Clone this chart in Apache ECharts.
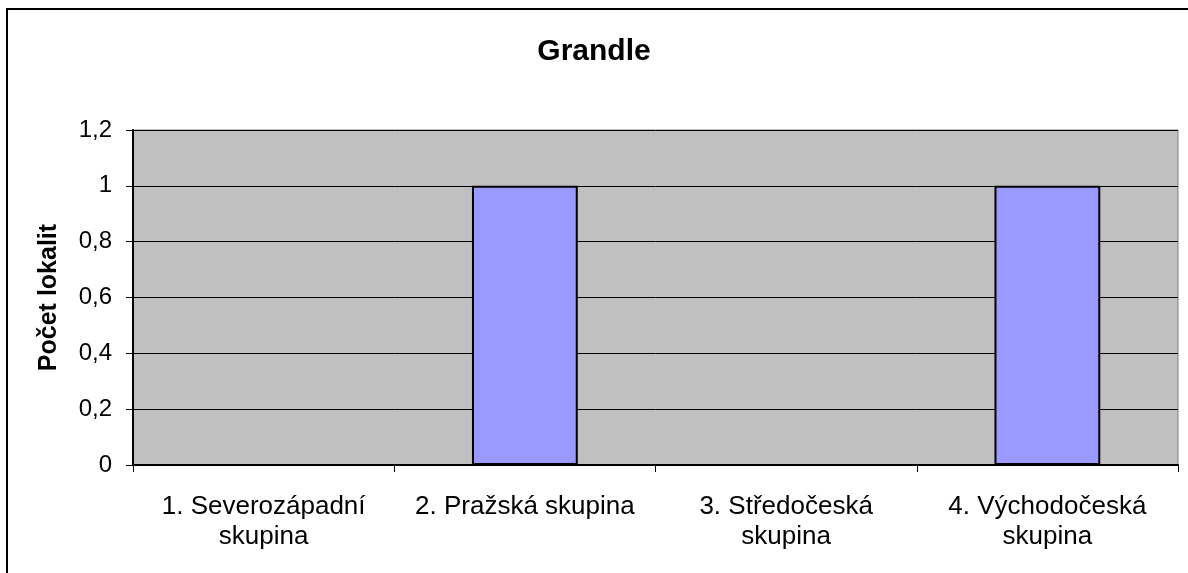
<!DOCTYPE html>
<html>
<head>
<meta charset="utf-8">
<script src="https://cdn.jsdelivr.net/npm/echarts@6/dist/echarts.min.js"></script>
<style>
  html, body { margin: 0; padding: 0; background: #fff; }
  #chart { width: 1188px; height: 573px; }
</style>
</head>
<body>
<div id="chart"></div>
<script>
// data
const categories = ["1. Severozápadní\nskupina", "2. Pražská skupina", "3. Středočeská\nskupina", "4. Východočeská\nskupina"];
const values = [0, 1, 0, 1];
const yTicks = [0, 0.2, 0.4, 0.6, 0.8, 1, 1.2];

const chart = echarts.init(document.getElementById("chart"));
chart.setOption({
  animation: false,
  title: {
    text: "Grandle",
    left: "center",
    top: 32,
    textStyle: { fontFamily: "Liberation Sans", fontSize: 30, fontWeight: "bold", color: "#000" }
  },
  grid: {
    left: 133,
    right: 10,
    top: 130,
    bottom: 108,
    show: true,
    backgroundColor: "#c0c0c0",
    borderColor: "#808080",
    borderWidth: 1
  },
  xAxis: {
    type: "category",
    data: categories,
    axisLine: { lineStyle: { color: "#000", width: 2 } },
    axisTick: { show: true, length: 7, alignWithLabel: false, lineStyle: { color: "#000" } },
    axisLabel: {
      interval: 0,
      margin: 27,
      fontFamily: "Liberation Sans",
      fontSize: 26,
      lineHeight: 30,
      color: "#000"
    }
  },
  yAxis: {
    type: "value",
    min: 0,
    max: yTicks[yTicks.length - 1],
    interval: 0.2,
    name: "Počet lokalit",
    nameLocation: "middle",
    nameGap: 71,
    nameTextStyle: { fontFamily: "Liberation Sans", fontSize: 25, fontWeight: "bold", color: "#000" },
    axisLine: { show: true, lineStyle: { color: "#000", width: 2 } },
    axisTick: { show: true, length: 7, lineStyle: { color: "#000" } },
    axisLabel: {
      margin: 21,
      fontFamily: "Liberation Sans",
      fontSize: 24,
      color: "#000",
      formatter: v => String(Math.round(v * 10) / 10).replace(".", ",")
    },
    splitLine: { show: true, lineStyle: { color: "#000", width: 1 } }
  },
  series: [{
    type: "bar",
    data: values,
    barWidth: "40.5%",
    itemStyle: { color: "#9999ff", borderColor: "#000", borderWidth: 2 }
  }],
  graphic: [{
    type: "polyline",
    shape: { points: [[7, 573], [7, 9], [1188, 9]] },
    style: { stroke: "#000", lineWidth: 2, fill: null }
  }]
});
</script>
</body>
</html>
